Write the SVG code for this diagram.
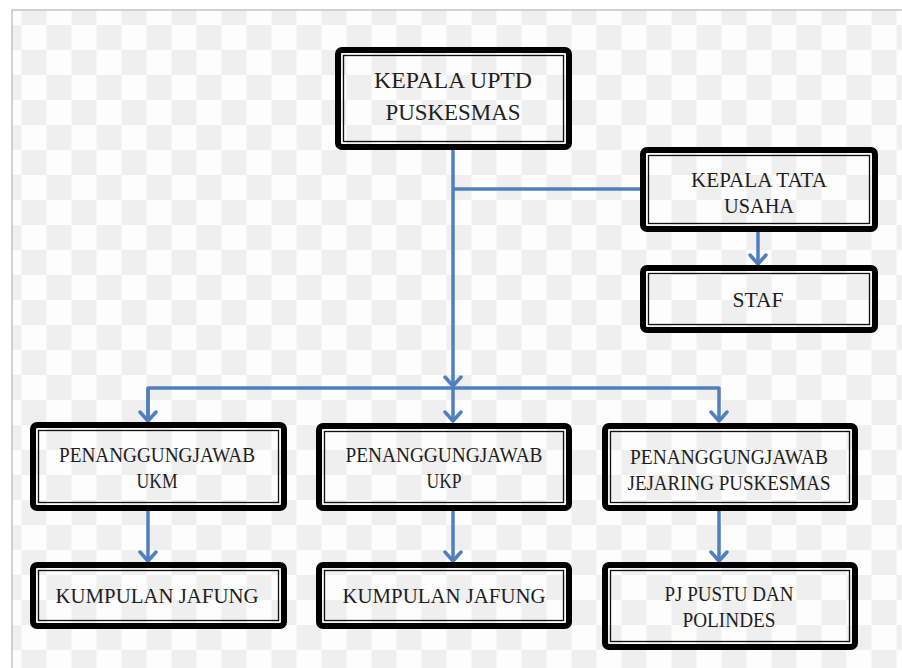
<svg xmlns="http://www.w3.org/2000/svg" width="902" height="668" viewBox="0 0 902 668">
<style>
.outer{fill:none;stroke:#000;stroke-width:6;}
.inner{fill:none;stroke:#111;stroke-width:1.3;}
.t{font-family:"Liberation Serif","Times New Roman",serif;fill:#1e1e1e;text-anchor:middle;}
.t1{font-size:24px;}
.t2{font-size:21.5px;}
.c{fill:none;stroke:#4f80bd;stroke-width:3.5;stroke-linejoin:round;}
</style>
<defs>
<pattern id="chk" patternUnits="userSpaceOnUse" x="21.5" y="0" width="50" height="50">
<rect width="50" height="50" fill="#fdfdfd"/>
<rect width="25" height="25" fill="#efefef"/>
<rect x="25" y="25" width="25" height="25" fill="#efefef"/>
</pattern>
<marker id="arr" viewBox="-12 -10 14 20" refX="0" refY="0" markerWidth="14" markerHeight="20" markerUnits="userSpaceOnUse" orient="auto">
<path d="M-9,-8 L0,0 L-9,8" fill="none" stroke="#4f80bd" stroke-width="3.5" stroke-linejoin="round" stroke-linecap="round"/>
</marker>
</defs>
<rect width="902" height="668" fill="#ffffff"/>
<rect x="12" y="10" width="890" height="658" fill="url(#chk)"/>
<path d="M12,668 V10 H902" fill="none" stroke="#c3c3c3" stroke-width="1.5"/>

<g id="connectors">
<path class="c" d="M453,150 V386" marker-end="url(#arr)"/>
<path class="c" d="M453,189 H640"/>
<path class="c" d="M148,421 V388 H719 V421" marker-end="url(#arr)"/>
<path class="c" d="M148,388 V421" marker-end="url(#arr)"/>
<path class="c" d="M453,388 V421" marker-end="url(#arr)"/>
<path class="c" d="M758,232 V264" marker-end="url(#arr)"/>
<path class="c" d="M148,511 V561" marker-end="url(#arr)"/>
<path class="c" d="M453,511 V561" marker-end="url(#arr)"/>
<path class="c" d="M719,511 V561" marker-end="url(#arr)"/>
</g>

<g id="kepala-uptd">
<rect class="outer" x="338" y="50" width="231" height="97" rx="4"/>
<rect class="inner" x="343.5" y="55.5" width="220" height="86"/>
<text class="t t1" x="453" y="88" textLength="158" lengthAdjust="spacingAndGlyphs">KEPALA UPTD</text>
<text class="t t1" x="453" y="120" textLength="135" lengthAdjust="spacingAndGlyphs">PUSKESMAS</text>
</g>

<g id="kepala-tu">
<rect class="outer" x="643" y="150" width="232" height="79" rx="4"/>
<rect class="inner" x="648.5" y="155.5" width="221" height="68"/>
<text class="t t2" x="759" y="187" textLength="136" lengthAdjust="spacingAndGlyphs">KEPALA TATA</text>
<text class="t t2" x="759" y="213" textLength="70" lengthAdjust="spacingAndGlyphs">USAHA</text>
</g>

<g id="staf">
<rect class="outer" x="643" y="268" width="232" height="62" rx="4"/>
<rect class="inner" x="648.5" y="273.5" width="221" height="51"/>
<text class="t t2" x="758" y="307" textLength="51" lengthAdjust="spacingAndGlyphs">STAF</text>
</g>

<g id="pj-ukm">
<rect class="outer" x="33" y="425" width="251" height="83" rx="4"/>
<rect class="inner" x="38.5" y="430.5" width="240" height="72"/>
<text class="t t2" x="157" y="462" textLength="196" lengthAdjust="spacingAndGlyphs">PENANGGUNGJAWAB</text>
<text class="t t2" x="157" y="488" textLength="41" lengthAdjust="spacingAndGlyphs">UKM</text>
</g>

<g id="pj-ukp">
<rect class="outer" x="319" y="426" width="250" height="82" rx="4"/>
<rect class="inner" x="324.5" y="431.5" width="239" height="71"/>
<text class="t t2" x="444" y="462" textLength="197" lengthAdjust="spacingAndGlyphs">PENANGGUNGJAWAB</text>
<text class="t t2" x="444" y="488" textLength="35" lengthAdjust="spacingAndGlyphs">UKP</text>
</g>

<g id="pj-jejaring">
<rect class="outer" x="605" y="426" width="250" height="82" rx="4"/>
<rect class="inner" x="610.5" y="431.5" width="239" height="71"/>
<text class="t t2" x="729" y="464" textLength="198" lengthAdjust="spacingAndGlyphs">PENANGGUNGJAWAB</text>
<text class="t t2" x="729" y="490" textLength="203" lengthAdjust="spacingAndGlyphs">JEJARING PUSKESMAS</text>
</g>

<g id="kumpulan-jafung-1">
<rect class="outer" x="33" y="565" width="251" height="61" rx="4"/>
<rect class="inner" x="38.5" y="570.5" width="240" height="50"/>
<text class="t t2" x="157" y="603" textLength="203" lengthAdjust="spacingAndGlyphs">KUMPULAN JAFUNG</text>
</g>

<g id="kumpulan-jafung-2">
<rect class="outer" x="319" y="565" width="250" height="61" rx="4"/>
<rect class="inner" x="324.5" y="570.5" width="239" height="50"/>
<text class="t t2" x="444" y="603" textLength="203" lengthAdjust="spacingAndGlyphs">KUMPULAN JAFUNG</text>
</g>

<g id="pj-pustu">
<rect class="outer" x="605" y="565" width="250" height="82" rx="4"/>
<rect class="inner" x="610.5" y="570.5" width="239" height="71"/>
<text class="t t2" x="729" y="601" textLength="129" lengthAdjust="spacingAndGlyphs">PJ PUSTU DAN</text>
<text class="t t2" x="729" y="627" textLength="93" lengthAdjust="spacingAndGlyphs">POLINDES</text>
</g>
</svg>
